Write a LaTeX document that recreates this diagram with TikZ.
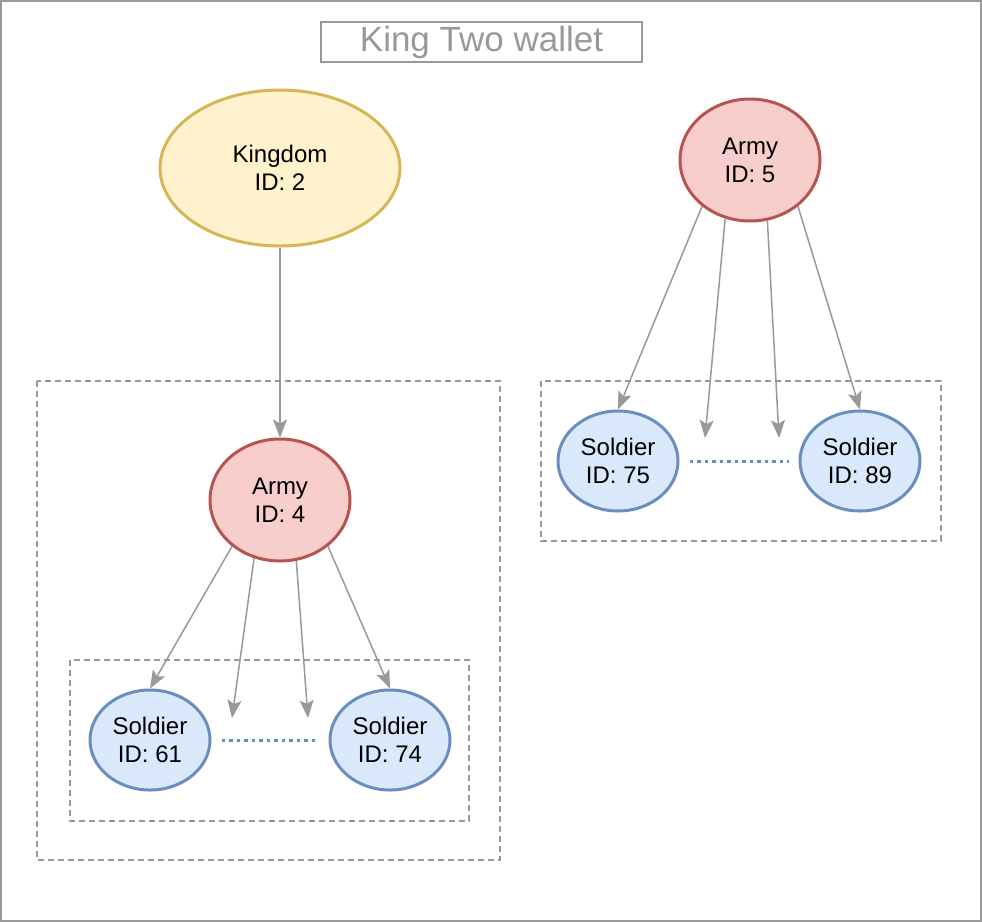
\documentclass[tikz,border=0pt]{standalone}
\usepackage{fontspec}
\setmainfont{Liberation Sans}
\usetikzlibrary{shapes.geometric,arrows.meta}

\definecolor{kingfill}{HTML}{FFF2CC}
\definecolor{kingdraw}{HTML}{D6B656}
\definecolor{armyfill}{HTML}{F8CECC}
\definecolor{armydraw}{HTML}{B85450}
\definecolor{soldfill}{HTML}{DAE8FC}
\definecolor{solddraw}{HTML}{6C8EBF}
\definecolor{linegray}{HTML}{999999}

\begin{document}
\begin{tikzpicture}
      [x=1pt,y=-1pt,%%%%%%%%%%%%%%%%%%%%%%%%%%%%%%
      unit/.style={ellipse,line width=3pt,inner sep=0pt,align=center,
        font=\fontsize{24}{28}\selectfont},
      kingdom/.style={unit,fill=kingfill,draw=kingdraw,minimum width=240pt,minimum height=156pt},
      army/.style={unit,fill=armyfill,draw=armydraw,minimum width=140pt,minimum height=122pt},
      soldier/.style={unit,fill=soldfill,draw=solddraw,minimum width=120pt,minimum height=100pt},
      frame/.style={draw=linegray,line width=1.5pt,dash pattern=on 6pt off 4pt},
      link/.style={draw=linegray,line width=1.5pt,-{Stealth[length=18pt,width=14pt,inset=4pt]}},
      gap/.style={draw=solddraw,line width=3pt,dash pattern=on 3.5pt off 4pt,shorten >=10pt,shorten <=10pt},
      ]%%%%%%%%%%%%%%%%%%%%%%%%%%%%%%

      \useasboundingbox (0,0) rectangle (982,922);
      \draw[draw=linegray,line width=2pt] (1,1) rectangle (981,921);
      \node[draw=linegray,line width=2pt,minimum width=321pt,minimum height=40pt,
        text=linegray,font=\fontsize{35}{40}\selectfont] (title) at (481.5,42) {King Two wallet};

      \draw[frame] (37,381) rectangle (500,860);
      \draw[frame] (70,660) rectangle (469,821);
      \draw[frame] (541,381) rectangle (941,541);

      \node[kingdom] (kingdom) at (280,168) {Kingdom\\ID: 2};
      \node[army] (armyA) at (280,500) {Army\\ID: 4};
      \node[army] (armyB) at (750,160) {Army\\ID: 5};

      \node[soldier] (solA) at (150,740) {Soldier\\ID: 61};
      \node[soldier] (solB) at (390,740) {Soldier\\ID: 74};
      \node[soldier] (solC) at (618,461) {Soldier\\ID: 75};
      \node[soldier] (solD) at (860,461) {Soldier\\ID: 89};

      \coordinate (endA) at (232,718);
      \coordinate (endB) at (308,718);
      \coordinate (endC) at (705,438);
      \coordinate (endD) at (779,438);

      \draw[link] (kingdom) -- (armyA);

      \draw[link] (armyA.224) -- (solA.north);
      \draw[link] (armyA.246) -- (endA);
      \draw[link] (armyA.285) -- (endB);
      \draw[link] (armyA.316) -- (solB.north);

      \draw[link] (armyB.224) -- (solC.north);
      \draw[link] (armyB.247) -- (endC);
      \draw[link] (armyB.286) -- (endD);
      \draw[link] (armyB.316) -- (solD.north);

      \draw[gap] (solA) -- (solB);
      \draw[gap] (solC) -- (solD);
    \end{tikzpicture}
\end{document}
